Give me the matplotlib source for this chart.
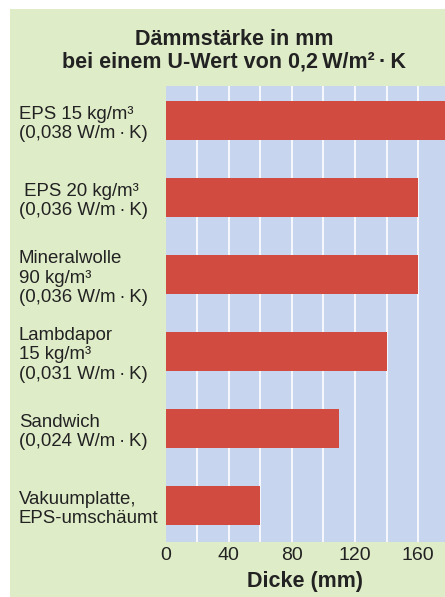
import matplotlib
matplotlib.use("Agg")
import matplotlib.pyplot as plt
from matplotlib.patches import Rectangle

plt.rcParams['font.family'] = ['Liberation Sans', 'DejaVu Sans']

dot = "\u2009·\u2009"
categories = ["EPS 15 kg/m³\n(0,038 W/m" + dot + "K)",
              " EPS 20 kg/m³\n(0,036 W/m" + dot + "K)",
              "Mineralwolle\n90 kg/m³\n(0,036 W/m" + dot + "K)",
              "Lambdapor\n15 kg/m³\n(0,031 W/m" + dot + "K)",
              "Sandwich\n(0,024 W/m" + dot + "K)",
              "Vakuumplatte,\nEPS-umschäumt"]
values = [190, 160, 160, 140, 110, 60]
xticks = [0, 40, 80, 120, 160]
grid_positions = [20, 40, 60, 80, 100, 120, 140, 160]
title_text = "Dämmstärke in mm\nbei einem U-Wert von 0,2\u2009W/m²" + dot + "K"
xlabel_text = "Dicke (mm)"

W, H = 445, 597
fig = plt.figure(figsize=(W / 100, H / 100), dpi=100)
fig.patch.set_facecolor("white")
green = "#dfecc8"
fig.add_artist(Rectangle((10 / W, 0), (W - 10) / W, (H - 9) / H,
                         transform=fig.transFigure, facecolor=green,
                         edgecolor="none", zorder=0))

left, right, top, bottom = 165.5, 445, 86, 541.7
ax = fig.add_axes([left / W, (H - bottom) / H, (right - left) / W, (bottom - top) / H])
ax.set_facecolor("#c7d5ee")
ypos = list(range(len(categories)))
ax.barh(ypos, values, height=0.5, color="#d14b40", zorder=3)
ax.set_xlim(0, 177)
ax.set_ylim(5.47, -0.45)
for g in grid_positions:
    ax.axvline(g, color="white", lw=1.2, zorder=1)
for s in ax.spines.values():
    s.set_visible(False)

ax.set_xticks(xticks)
ax.set_xticklabels([str(t) for t in xticks], fontsize=14, color="#222222")
ax.tick_params(axis="x", length=0, pad=4)

pad_px = left - 19
ax.set_yticks(ypos)
ax.set_yticklabels(categories, fontsize=13.4, color="#222222", linespacing=1.22)
ax.tick_params(axis="y", length=0, pad=pad_px * 72 / 100)
for lab in ax.get_yticklabels():
    lab.set_ha("left")
    lab.set_multialignment("left")

fig.text(234 / W, 1 - 51 / H, title_text, ha="center", va="center",
         fontsize=15.5, fontweight="bold", color="#222222", linespacing=1.1)
fig.text(305 / W, 1 - 582 / H, xlabel_text, ha="center", va="center",
         fontsize=15.5, fontweight="bold", color="#222222")

fig.savefig("out.png", dpi=100, facecolor=fig.get_facecolor())
